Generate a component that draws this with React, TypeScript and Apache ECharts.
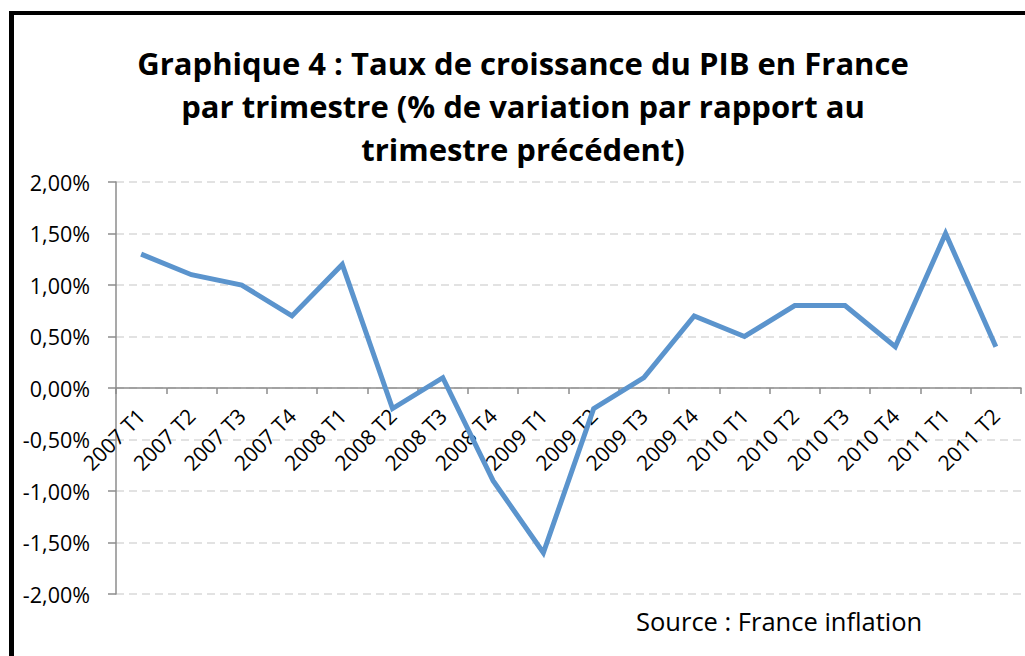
import React, { useEffect, useRef } from "react";
import * as echarts from "echarts";

const categories = [
  "2007 T1", "2007 T2", "2007 T3", "2007 T4",
  "2008 T1", "2008 T2", "2008 T3", "2008 T4",
  "2009 T1", "2009 T2", "2009 T3", "2009 T4",
  "2010 T1", "2010 T2", "2010 T3", "2010 T4",
  "2011 T1", "2011 T2",
];
const growth = [
  1.3, 1.1, 1.0, 0.7,
  1.2, -0.2, 0.1, -0.9,
  -1.6, -0.2, 0.1, 0.7,
  0.5, 0.8, 0.8, 0.4,
  1.5, 0.4,
];
const titleLines = [
  "Graphique 4 : Taux de croissance du PIB en France",
  "par trimestre (% de variation par rapport au",
  "trimestre précédent)",
];
const sourceText = "Source : France inflation";

export default function App() {
  const ref = useRef<HTMLDivElement>(null);
  useEffect(() => {
    if (!ref.current) return;
    const chart = echarts.init(ref.current, null, { renderer: "svg" });
    const font = "'Open Sans', Lato, sans-serif";
    chart.setOption({
      animation: false,
      backgroundColor: "#ffffff",
      textStyle: { fontFamily: font },
      grid: { left: 116, right: 4, top: 182, bottom: 62, containLabel: false, outerBoundsMode: "none" },
      xAxis: {
        type: "category",
        data: categories,
        boundaryGap: true,
        offset: -206,
        axisLine: { onZero: false, lineStyle: { color: "#8c8c8c", width: 1.5 } },
        axisTick: { show: true, length: 6, lineStyle: { color: "#8c8c8c", width: 1.5 } },
        axisLabel: {
          interval: 0,
          rotate: 45,
          margin: 24,
          fontSize: 21,
          color: "#000",
          fontFamily: font,
          hideOverlap: false,
        },
        splitLine: { show: false },
      },
      yAxis: {
        type: "value",
        min: -2,
        max: 2,
        interval: 0.5,
        axisLine: { show: true, lineStyle: { color: "#8c8c8c", width: 1.5 } },
        axisTick: { show: true, length: 8, lineStyle: { color: "#8c8c8c", width: 1.5 } },
        axisLabel: {
          margin: 26,
          fontSize: 21.5,
          color: "#000",
          fontFamily: font,
          formatter: (v: number) => v.toFixed(2).replace(".", ",") + "%",
        },
        splitLine: {
          show: true,
          lineStyle: { color: "#d9d9d9", width: 1.5, type: [8, 5] },
        },
      },
      series: [
        {
          type: "line",
          data: growth,
          symbol: "none",
          lineStyle: { color: "#5b94cd", width: 5, join: "miter" },
        },
      ],
      graphic: [
        { type: "rect", shape: { x: 9, y: 11, width: 5, height: 645 }, style: { fill: "#000" }, z: 100 },
        { type: "rect", shape: { x: 9, y: 11, width: 1016, height: 4 }, style: { fill: "#000" }, z: 100 },
        ...titleLines.map((t, i) => ({
          type: "text",
          x: 523,
          y: 63 + i * 43,
          style: {
            text: t,
            fontSize: 31,
            fontWeight: "bold",
            fontFamily: font,
            fill: "#000",
            align: "center",
            verticalAlign: "middle",
          },
        })),
        {
          type: "text",
          x: 636,
          y: 621,
          style: {
            text: sourceText,
            fontSize: 25.5,
            fontFamily: font,
            fill: "#000",
            align: "left",
            verticalAlign: "middle",
          },
        },
      ],
    });
    return () => chart.dispose();
  }, []);
  return (
    <div
      ref={ref}
      style={{ position: "fixed", left: 0, top: 0, width: 1025, height: 656 }}
    />
  );
}
